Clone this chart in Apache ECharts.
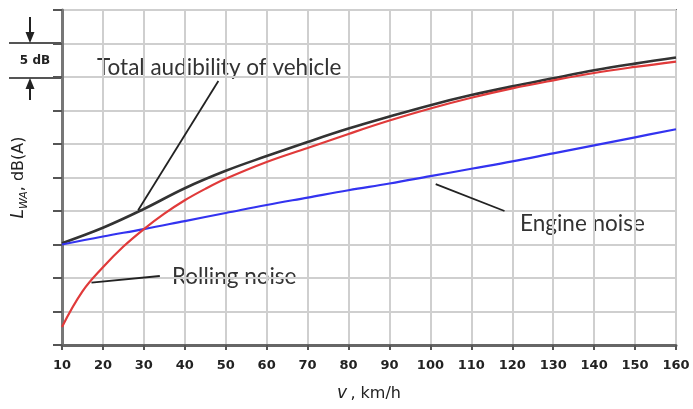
<!DOCTYPE html>
<html><head><meta charset="utf-8">
<script src="https://cdn.jsdelivr.net/npm/echarts@6/dist/echarts.min.js"></script>
<style>html,body{margin:0;padding:0;background:#fff}#c{width:693px;height:409px}</style>
</head><body><div id="c"></div>
<script>
const speeds = [10,20,30,40,50,60,70,80,90,100,110,120,130,140,150,160];
const totalNoise   = [15.2,17.5,20.3,23.4,26.0,28.2,30.3,32.3,34.1,35.8,37.3,38.6,39.8,41.0,42.0,42.9];
const engineNoise  = [15.0,16.2,17.3,18.5,19.7,20.9,22.0,23.1,24.1,25.2,26.3,27.4,28.6,29.8,31.0,32.2];
const rollingSpeeds = [10,15,20,25,30,35,40,45,50,60,70,80,90,100,110,120,130,140,150,160];
const rollingNoise  = [2.7,8.0,11.6,14.7,17.3,19.6,21.6,23.3,24.8,27.3,29.4,31.5,33.5,35.3,36.9,38.3,39.5,40.6,41.5,42.3];
const xTicks = {min:10, max:160, step:10};
const yTicks = {min:0, max:50, step:5};
const pointerTotal   = [[28.6,20.1],[48.2,39.4]];
const pointerRolling = [[17.2,9.3],[33.9,10.3]];
const pointerEngine  = [[101.3,24.0],[118.1,20.0]];
const labels = {total:'Total audibility of vehicle', rolling:'Rolling noise', engine:'Engine noise'};

const chart = echarts.init(document.getElementById('c'));
const lineS = (data,color,w,z)=>({type:'line',data,smooth:0.4,showSymbol:false,symbol:'none',silent:true,z,
  lineStyle:{color,width:w},animation:false});
const ptr = (data)=>({type:'line',data,showSymbol:false,symbol:'none',silent:true,z:5,
  lineStyle:{color:'#222',width:1.8},animation:false});
const txtStyle = {fontFamily:'Lato',fontSize:22.5,fill:'#333'};
chart.setOption({
  animation:false,
  grid:{left:62,right:17,top:10,bottom:64,show:true,borderColor:'#777',borderWidth:2},
  xAxis:{type:'value',min:xTicks.min,max:xTicks.max,interval:xTicks.step,
    axisLine:{lineStyle:{color:'#666',width:3}},
    axisTick:{show:true,length:5,lineStyle:{color:'#555',width:2}},
    axisLabel:{margin:14,color:'#222',fontFamily:'DejaVu Sans',fontWeight:'bold',fontSize:13},
    splitLine:{show:true,lineStyle:{color:'#cfcfcf',width:2}},
    name:'{i|v} {n|, km/h}',nameLocation:'middle',nameGap:40,
    nameTextStyle:{rich:{i:{fontFamily:'DejaVu Sans',fontStyle:'italic',fontSize:17,color:'#222'},
      n:{fontFamily:'DejaVu Sans',fontSize:16,color:'#222'}}}},
  yAxis:{type:'value',min:yTicks.min,max:yTicks.max,interval:yTicks.step,
    axisLine:{show:true,lineStyle:{color:'#777',width:3}},
    axisTick:{show:true,length:9,lineStyle:{color:'#555',width:2}},
    axisLabel:{show:false},
    splitLine:{show:true,lineStyle:{color:'#cfcfcf',width:2}},
    name:'{i|L}{s|WA}{n|, dB(A)}',nameLocation:'middle',nameRotate:90,nameGap:32,
    nameTextStyle:{rich:{i:{fontFamily:'DejaVu Sans',fontStyle:'italic',fontSize:17,color:'#222',lineHeight:22},
      s:{fontFamily:'DejaVu Sans',fontStyle:'italic',fontSize:11,color:'#222',verticalAlign:'bottom',lineHeight:22,padding:[6,0,0,0]},
      n:{fontFamily:'DejaVu Sans',fontSize:16,color:'#222',lineHeight:22}}}},
  series:[
    lineS(engineNoise.map((v,i)=>[speeds[i],v]),'#3333f0',2.2,3),
    lineS(rollingNoise.map((v,i)=>[rollingSpeeds[i],v]),'#e03a3a',2.2,3),
    lineS(totalNoise.map((v,i)=>[speeds[i],v]),'#333',2.6,2),
    ptr(pointerTotal),ptr(pointerRolling),ptr(pointerEngine)
  ],
  graphic:[
    {type:'text',x:97,y:68,style:Object.assign({text:labels.total,verticalAlign:'middle'},txtStyle)},
    {type:'text',x:172,y:277,style:Object.assign({text:labels.rolling,verticalAlign:'middle'},txtStyle)},
    {type:'text',x:520,y:224,style:Object.assign({text:labels.engine,verticalAlign:'middle'},txtStyle)},
    {type:'line',shape:{x1:9,y1:43,x2:62,y2:43},style:{stroke:'#555',lineWidth:2}},
    {type:'line',shape:{x1:9,y1:78,x2:62,y2:78},style:{stroke:'#555',lineWidth:2}},
    {type:'line',shape:{x1:30,y1:17,x2:30,y2:36},style:{stroke:'#222',lineWidth:2}},
    {type:'polygon',shape:{points:[[25.5,32],[34.5,32],[30,43]]},style:{fill:'#222'}},
    {type:'polygon',shape:{points:[[25.5,89],[34.5,89],[30,78]]},style:{fill:'#222'}},
    {type:'line',shape:{x1:30,y1:86,x2:30,y2:100},style:{stroke:'#222',lineWidth:2}},
    {type:'text',x:35,y:61,style:{text:'5 dB',fontFamily:'DejaVu Sans',fontWeight:'bold',fontSize:12,fill:'#222',align:'center',verticalAlign:'middle'}}
  ]
});
</script></body></html>
